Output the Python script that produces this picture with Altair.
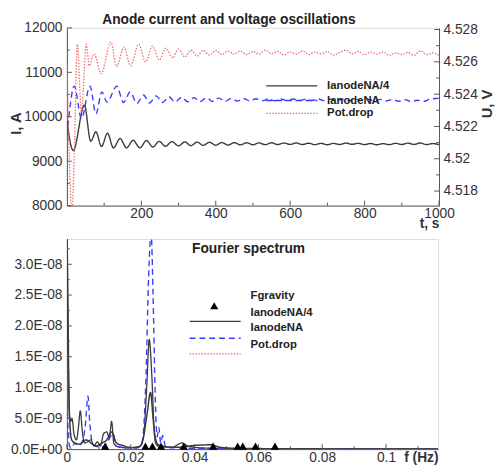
import altair as alt
import pandas as pd

FONT = "Liberation Sans"

# ---------------- top panel: anode current and voltage ----------------
t_black = [0, 17, 47, 64, 78, 93, 109, 125, 143, 160, 178, 196, 214, 231, 248, 265, 282,
           300, 317, 333, 350, 366, 383, 400, 416, 433, 450, 466, 483, 500, 516, 533, 550,
           566, 583, 600, 616, 633, 650, 666, 683, 700, 716, 733, 750, 766, 783, 800, 816,
           833, 850, 866, 883, 900, 916, 933, 950, 966, 983, 1000]
i_black = [9900, 9240, 10260, 9450, 9660, 9330, 9630, 9300, 9510, 9300, 9470, 9300, 9465,
           9320, 9445, 9335, 9440, 9345, 9435, 9350, 9430, 9355, 9425, 9360, 9420, 9365,
           9418, 9368, 9415, 9370, 9412, 9372, 9415, 9375, 9408, 9378, 9410, 9375, 9405,
           9372, 9402, 9370, 9400, 9376, 9408, 9380, 9402, 9374, 9398, 9370, 9395, 9372,
           9402, 9376, 9406, 9378, 9410, 9374, 9396, 9372]

t_blue = [0, 20, 39, 62, 78, 94, 108, 134, 152, 170, 188, 206, 222, 240, 257, 274, 291,
          308, 325, 342, 358, 375, 392, 408, 425, 442, 458, 475, 492, 508, 525, 542, 558,
          575, 592, 608, 625, 642, 658, 675, 692, 708, 725, 742, 758, 775, 792, 808, 825,
          842, 858, 875, 892, 908, 925, 942, 958, 975, 992, 1000]
i_blue = [9550, 10690, 9960, 10690, 10070, 10560, 10330, 10690, 10320, 10556, 10300, 10490,
          10310, 10470, 10320, 10450, 10330, 10440, 10335, 10430, 10340, 10425, 10345, 10420,
          10350, 10415, 10352, 10410, 10355, 10405, 10358, 10405, 10360, 10400, 10360, 10400,
          10365, 10398, 10365, 10400, 10362, 10398, 10365, 10395, 10362, 10398, 10365, 10395,
          10360, 10392, 10355, 10390, 10350, 10385, 10340, 10372, 10345, 10395, 10410, 10420]

t_red = [0, 4, 8, 13, 20, 28, 39, 52, 60, 73, 92, 118, 134, 153, 171, 193, 211, 230, 248,
         266, 284, 300, 317, 333, 350, 366, 383, 400, 416, 433, 450, 466, 483, 500, 516,
         533, 550, 566, 583, 600, 616, 633, 650, 666, 683, 700, 716, 733, 750, 766, 783,
         800, 816, 833, 850, 866, 883, 900, 916, 933, 950, 966, 983, 1000]
u_red = [4.52588, 4.52224, 4.51891, 4.51650, 4.52040, 4.52709, 4.52285, 4.52709, 4.52576,
         4.52648, 4.52527, 4.52721, 4.52570, 4.52691, 4.52576, 4.52709, 4.52600, 4.52697,
         4.52612, 4.52685, 4.52624, 4.52679, 4.52630, 4.52673, 4.52636, 4.52670, 4.52642,
         4.52670, 4.52645, 4.52667, 4.52648, 4.52667, 4.52645, 4.52664, 4.52648, 4.52672,
         4.52650, 4.52665, 4.52642, 4.52660, 4.52648, 4.52668, 4.52645, 4.52660, 4.52650,
         4.52663, 4.52642, 4.52658, 4.52672, 4.52650, 4.52664, 4.52645, 4.52660, 4.52648,
         4.52662, 4.52640, 4.52655, 4.52645, 4.52658, 4.52640, 4.52668, 4.52645, 4.52655,
         4.52640]

# ---------------- bottom panel: Fourier spectrum ----------------
f_black = [0.0, 0.0004, 0.0008, 0.0012, 0.0016, 0.0022, 0.0030, 0.0036, 0.0042, 0.0048,
           0.0055, 0.0065, 0.0075, 0.0085, 0.0095, 0.0105, 0.0115, 0.0125, 0.0133, 0.0140,
           0.0147, 0.0155, 0.017, 0.019, 0.021, 0.023, 0.024, 0.025, 0.0258, 0.0266,
           0.0274, 0.0285, 0.030, 0.033, 0.036, 0.038, 0.042, 0.05, 0.06, 0.1163]
a_black = [3.05e-8, 1.5e-8, 0.55e-8, 0.45e-8, 0.5e-8, 0.25e-8, 0.15e-8, 0.35e-8, 0.62e-8,
           0.3e-8, 0.1e-8, 0.12e-8, 0.15e-8, 0.05e-8, 0.12e-8, 0.05e-8, 0.25e-8, 0.28e-8,
           0.18e-8, 0.45e-8, 0.1e-8, 0.05e-8, 0.03e-8, 0.02e-8, 0.03e-8, 0.05e-8, 0.2e-8,
           1.0e-8, 1.78e-8, 1.2e-8, 0.3e-8, 0.08e-8, 0.05e-8, 0.03e-8, 0.1e-8, 0.05e-8,
           0.02e-8, 0.01e-8, 0.005e-8, 0.003e-8]

f_blue = [0.0, 0.0004, 0.0008, 0.0015, 0.0025, 0.0035, 0.0050, 0.0058, 0.0066, 0.0072,
          0.0080, 0.009, 0.011, 0.0125, 0.0145, 0.0155, 0.018, 0.022, 0.0235, 0.0248,
          0.0256, 0.0264, 0.0270, 0.0277, 0.0283, 0.0288, 0.0294, 0.0300, 0.031, 0.035,
          0.045, 0.1163]
a_blue = [0.75e-8, 0.3e-8, 0.05e-8, 0.02e-8, 0.1e-8, 0.05e-8, 0.15e-8, 0.4e-8, 0.86e-8,
          0.4e-8, 0.1e-8, 0.05e-8, 0.03e-8, 0.1e-8, 0.25e-8, 0.05e-8, 0.02e-8, 0.02e-8,
          0.1e-8, 1.2e-8, 2.8e-8, 3.5e-8, 2.5e-8, 0.8e-8, 0.2e-8, 0.35e-8, 0.1e-8, 0.22e-8,
          0.03e-8, 0.02e-8, 0.01e-8, 0.0]

f_red = [0.0, 0.0003, 0.0006, 0.0010, 0.0015, 0.0025, 0.004, 0.006, 0.0075, 0.009, 0.011,
         0.0125, 0.014, 0.0155, 0.018, 0.021, 0.023, 0.024, 0.0252, 0.0262, 0.0270, 0.0278,
         0.029, 0.035, 0.040, 0.045, 0.048, 0.055, 0.1163]
a_red = [3.6e-8, 2.5e-8, 1.0e-8, 0.35e-8, 0.15e-8, 0.1e-8, 0.08e-8, 0.15e-8, 0.1e-8,
         0.05e-8, 0.1e-8, 0.15e-8, 0.28e-8, 0.1e-8, 0.05e-8, 0.02e-8, 0.05e-8, 0.2e-8,
         0.6e-8, 0.92e-8, 0.5e-8, 0.1e-8, 0.04e-8, 0.03e-8, 0.06e-8, 0.07e-8, 0.03e-8,
         0.01e-8, 0.0]

f_gravity = [0.0120, 0.0246, 0.0268, 0.0295, 0.0366, 0.0458, 0.0535, 0.0551, 0.0591, 0.0652]

names = ["IanodeNA/4", "IanodeNA", "Pot.drop"]
colors = ["#3a3a3a", "#3a3aff", "#ee6b6b"]
dashes = [[1, 0], [6, 4], [1.5, 1.5]]
widths = [1.3, 1.5, 1.3]

# tick positions (major with labels, minor without)
top_x_ticks = [200, 400, 600, 800, 1000]
top_x_minor = [100, 300, 500, 700, 900]
left_ticks = [8000, 9000, 10000, 11000, 12000]
left_minor = [8500, 9500, 10500, 11500]
right_ticks = [4.518, 4.520, 4.522, 4.524, 4.526, 4.528]
right_minor = [4.519, 4.521, 4.523, 4.525, 4.527]
f_ticks = [0, 0.02, 0.04, 0.06, 0.08, 0.1]
f_minor = [0.01, 0.03, 0.05, 0.07, 0.09, 0.11]
amp_ticks = [0, 5e-9, 1e-8, 1.5e-8, 2e-8, 2.5e-8, 3e-8]
amp_minor = [2.5e-9, 7.5e-9, 1.25e-8, 1.75e-8, 2.25e-8, 2.75e-8, 3.25e-8]

W1, H1 = 379, 181
W2, H2 = 378, 214
MAJ, MIN = 5, 3
AXC = "#555555"

common = dict(labelFont=FONT, labelFontSize=14, labelColor="#333333", domainColor=AXC,
              tickColor=AXC, titleFont=FONT, titleFontWeight="bold", titleColor="#333333",
              grid=False, labelFlush=False, labelOverlap=False, ticks=False)

one = pd.DataFrame({"k": [0]})


def legend_line(name, x1, x2, y):
    i = names.index(name)
    return alt.Chart(one).mark_rule(color=colors[i], strokeDash=dashes[i], strokeWidth=widths[i]).encode(
        x=alt.value(x1), x2=alt.value(x2), y=alt.value(y))


def label(text, x, y, size=11.5, bold=True, align="left"):
    return alt.Chart(one).mark_text(align=align, baseline="middle", font=FONT, fontSize=size,
                                    fontWeight="bold" if bold else "normal", color="#222222").encode(
        x=alt.value(x), y=alt.value(y), text=alt.value(text))


def xticks(values, field, scale, axis, height, length):
    return alt.Chart(pd.DataFrame({field: values})).mark_rule(color=AXC, strokeWidth=1).encode(
        x=alt.X(f"{field}:Q", scale=scale, axis=axis),
        y=alt.value(height), y2=alt.value(height - length))


def yticks(values, field, scale, axis, x0, length):
    return alt.Chart(pd.DataFrame({field: values})).mark_rule(color=AXC, strokeWidth=1).encode(
        y=alt.Y(f"{field}:Q", scale=scale, axis=axis),
        x=alt.value(x0), x2=alt.value(x0 + length))


# ---- top panel ----
df_cur = pd.DataFrame({
    "t": t_black + t_blue,
    "v": i_black + i_blue,
    "s": [names[0]] * len(t_black) + [names[1]] * len(t_blue),
})
df_red = pd.DataFrame({"t": t_red, "u": u_red})

x_top_scale = alt.Scale(domain=[0, 1000], nice=False)
x_top_axis = alt.Axis(values=top_x_ticks, format="d", title="t, s", titleFontSize=14,
                      titleAnchor="end", titleAlign="right", titleX=W1, titleY=18,
                      titleBaseline="middle", labelPadding=1, **common)
x_top = alt.X("t:Q", scale=x_top_scale, axis=x_top_axis)

y_left_scale = alt.Scale(domain=[8000, 12000], nice=False, zero=False)
y_left_axis = alt.Axis(values=left_ticks, format="d", title="I, A", titleFontSize=15,
                       titleY=97, titlePadding=0, labelPadding=5, **common)
y_right_scale = alt.Scale(domain=[4.5171, 4.5281], nice=False, zero=False)
y_right_axis = alt.Axis(orient="right", values=right_ticks, format=".3~f", title="U, V",
                        titleFontSize=15, titleAngle=270, titleBaseline="top", titleY=77,
                        titlePadding=2, labelPadding=4, **common)

cur = alt.Chart(df_cur).mark_line(strokeWidth=1.4, interpolate="monotone", clip=True).encode(
    x=x_top,
    y=alt.Y("v:Q", scale=y_left_scale, axis=y_left_axis),
    color=alt.Color("s:N", scale=alt.Scale(domain=names[:2], range=colors[:2]), legend=None),
    strokeDash=alt.StrokeDash("s:N", scale=alt.Scale(domain=names[:2], range=dashes[:2]), legend=None),
)

red = alt.Chart(df_red).mark_line(color=colors[2], strokeDash=dashes[2], strokeWidth=widths[2],
                                  interpolate="monotone", clip=True).encode(
    x=x_top,
    y=alt.Y("u:Q", scale=y_right_scale, axis=y_right_axis),
)

left_group = alt.layer(
    cur,
    yticks(left_ticks, "v", y_left_scale, y_left_axis, 0, MAJ),
    yticks(left_minor, "v", y_left_scale, y_left_axis, 0, MIN),
)
right_group = alt.layer(
    red,
    yticks(right_ticks, "u", y_right_scale, y_right_axis, W1 - MAJ, MAJ),
    yticks(right_minor, "u", y_right_scale, y_right_axis, W1 - MIN, MIN),
)

top = alt.layer(
    left_group, right_group,
    xticks(top_x_ticks, "t", x_top_scale, x_top_axis, H1, MAJ),
    xticks(top_x_minor, "t", x_top_scale, x_top_axis, H1, MIN),
    legend_line(names[0], 203, 255, 59), label(names[0], 265, 59),
    legend_line(names[1], 203, 255, 74), label(names[1], 265, 74),
    legend_line(names[2], 203, 255, 87), label(names[2], 265, 87),
    label("Anode current and voltage oscillations", 165, -8, size=14, align="center"),
).resolve_scale(y="independent").properties(width=W1, height=H1)

# ---- bottom panel ----
df_spec = pd.DataFrame({
    "f": f_black + f_blue + f_red,
    "a": a_black + a_blue + a_red,
    "s": [names[0]] * len(f_black) + [names[1]] * len(f_blue) + [names[2]] * len(f_red),
})
df_grav = pd.DataFrame({"f": f_gravity})

x_bot_scale = alt.Scale(domain=[0, 0.1163], nice=False)
x_bot_axis = alt.Axis(values=f_ticks, format="~g", title="f (Hz)", titleFontSize=14,
                      titleAnchor="end", titleAlign="right", titleX=W2, titleY=9,
                      titleBaseline="middle", labelPadding=2, **common)
y_bot_scale = alt.Scale(domain=[0, 3.41e-8], nice=False, zero=True)
amp_label = "replace(replace(format(datum.value, '.1e'), 'e-', 'E-0'), 'e+', 'E+0')"
y_bot_axis = alt.Axis(values=amp_ticks, labelExpr=amp_label, title=None, labelPadding=5, **common)

spec = alt.Chart(df_spec).mark_line(interpolate="monotone", clip=True).encode(
    x=alt.X("f:Q", scale=x_bot_scale, axis=x_bot_axis),
    y=alt.Y("a:Q", scale=y_bot_scale, axis=y_bot_axis),
    color=alt.Color("s:N", scale=alt.Scale(domain=names, range=colors), legend=None),
    strokeDash=alt.StrokeDash("s:N", scale=alt.Scale(domain=names, range=dashes), legend=None),
    strokeWidth=alt.StrokeWidth("s:N", scale=alt.Scale(domain=names, range=widths), legend=None),
)

grav = alt.Chart(df_grav).mark_point(shape="triangle-up", filled=True, color="black", opacity=1,
                                     size=70, yOffset=-3).encode(
    x=alt.X("f:Q", scale=x_bot_scale, axis=x_bot_axis),
    y=alt.datum(0, scale=y_bot_scale, axis=y_bot_axis),
)

bottom = alt.layer(
    spec,
    xticks(f_ticks, "f", x_bot_scale, x_bot_axis, H2, MAJ),
    xticks(f_minor, "f", x_bot_scale, x_bot_axis, H2, MIN),
    yticks(amp_ticks, "a", y_bot_scale, y_bot_axis, 0, MAJ),
    yticks(amp_minor, "a", y_bot_scale, y_bot_axis, 0, MIN),
    grav,
    alt.Chart(one).mark_point(shape="triangle-up", filled=True, color="black", opacity=1, size=70).encode(
        x=alt.value(150), y=alt.value(68)),
    label("Fgravity", 187, 58),
    legend_line(names[0], 125, 177, 84), label(names[0], 187, 75),
    legend_line(names[1], 125, 177, 101), label(names[1], 187, 91),
    legend_line(names[2], 125, 177, 117), label(names[2], 187, 108),
    label("Fourier spectrum", 185, 10, size=14, align="center"),
).properties(width=W2, height=H2)

chart = alt.vconcat(top, bottom, spacing=7).configure_view(stroke=None).configure(
    background="white", padding=0)

chart.save("out.html", embed_options={"renderer": "svg", "actions": False})
